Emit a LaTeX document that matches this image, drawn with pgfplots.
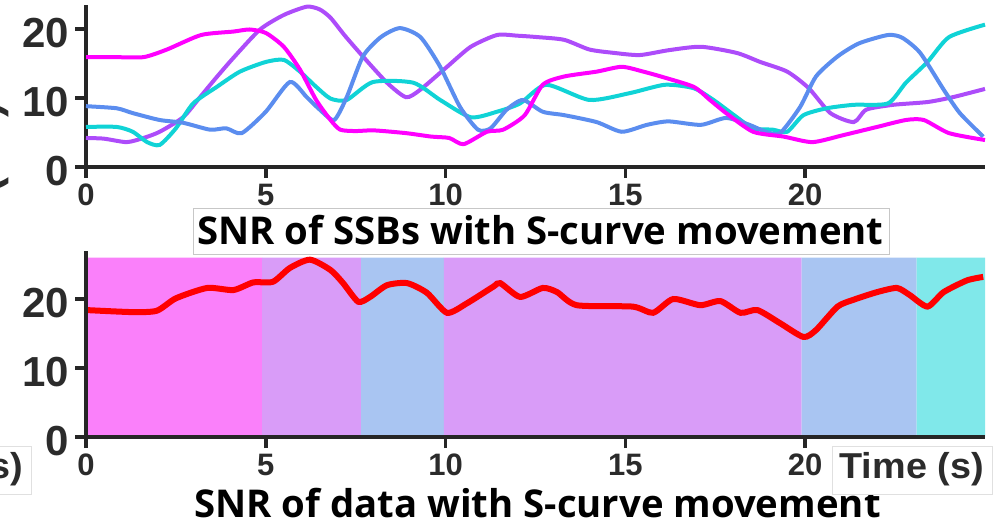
\documentclass[border=0pt]{standalone}
\usepackage{graphicx}
\usepackage{fontspec}
\setmainfont{Liberation Sans}
\newfontfamily\titlefont{Open Sans}
\usepackage{pgfplots}
\pgfplotsset{compat=1.18}
\definecolor{axiscol}{HTML}{262626}
\definecolor{labcol}{HTML}{2B2B2B}
\definecolor{cmag}{HTML}{FF00FF}
\definecolor{cpur}{HTML}{AD4CFA}
\definecolor{cblu}{HTML}{5B8DEF}
\definecolor{ccya}{HTML}{10D3D6}
\definecolor{bmag}{HTML}{FA80FA}
\definecolor{bpur}{HTML}{D99CF8}
\definecolor{bblu}{HTML}{A9C5F2}
\definecolor{bcya}{HTML}{80E8EA}
\newcommand\sy[1]{{\fontsize{42}{42}\selectfont\bfseries #1}}
\newcommand\sx[1]{{\fontsize{31}{31}\selectfont\bfseries #1}}
\pgfplotsset{
  mystyle/.style={
    scale only axis, anchor=south west,
    xmin=0, xmax=25, ymin=0,
    axis x line=bottom, axis y line=left,
    axis line style={-, line width=4pt, color=axiscol},
    xtick={0,5,10,15,20}, xticklabels={\sx{0},\sx{5},\sx{10},\sx{15},\sx{20}},
    ytick={0,10,20}, yticklabels={\sy{0},\sy{10},\sy{20}},
    tick style={line width=3.5pt, color=axiscol},
    major tick length=11pt, tick align=outside,
    tick label style={text=labcol},
    yticklabel style={inner sep=0pt, xshift=-6pt, yshift=-4pt},
    xticklabel style={inner sep=0pt, yshift=-6pt},
    clip=false,
  }
}
\begin{document}
\begin{tikzpicture}[x=1pt,y=1pt]
\useasboundingbox (0,0) rectangle (998,522);
\clip (0,0) rectangle (998,522);
% top panel
\begin{axis}[mystyle, at={(86pt,355pt)}, width=899pt, height=162.15pt, ymax=23.5]
\addplot[cpur, line width=4pt, smooth, tension=0.4] coordinates {
(0,4.2) (0.5,4.1) (1.13,3.6) (1.6,4.2) (2.05,5.1) (2.7,7.2) (3.17,10.1) (3.6,12.8) (4.1,15.8) (4.84,19.9) (5.5,22.0) (6.14,23.2) (6.5,22.8) (6.8,21.6) (7.2,19.0) (7.7,16.0) (8.37,12.2) (8.9,10.1) (9.3,11.2) (10.04,14.5) (10.7,17.4) (11.43,19.1) (12.0,19.0) (12.55,18.8) (13.3,18.4) (14.0,17.0) (14.7,16.5) (15.4,16.2) (16.2,16.9) (17.1,17.4) (18.1,16.5) (18.75,15.2) (19.5,13.8) (20.1,11.4) (20.7,7.8) (21.35,6.5) (21.7,8.3) (22.45,9.0) (23.4,9.4) (24.1,10.1) (25.0,11.3)};
\addplot[ccya, line width=4pt, smooth, tension=0.4] coordinates {
(0,5.8) (0.85,5.8) (1.3,5.1) (1.7,3.6) (2.05,3.2) (2.5,5.6) (2.98,9.2) (3.64,11.6) (4.28,13.8) (5.0,15.2) (5.5,15.5) (5.95,13.8) (6.4,11.6) (6.8,9.9) (7.25,9.7) (7.98,12.3) (9.1,12.2) (9.85,9.7) (10.7,7.2) (11.43,8.0) (12.07,9.2) (12.8,11.9) (14.0,9.7) (15.13,10.7) (16.1,11.9) (16.9,11.4) (17.45,9.7) (18.1,7.2) (18.55,5.6) (19.1,5.4) (19.5,5.1) (19.95,7.5) (20.6,8.5) (21.35,9.0) (22.3,9.2) (22.8,12.2) (23.4,15.2) (24.0,18.8) (25.0,20.6)};
\addplot[cblu, line width=4pt, smooth, tension=0.4] coordinates {
(0,8.8) (0.85,8.5) (1.3,7.8) (2.05,6.8) (2.7,6.4) (3.45,5.4) (3.9,5.6) (4.33,4.9) (5.0,8.0) (5.67,12.3) (6.14,10.1) (6.5,8.3) (6.9,6.8) (7.25,10.1) (7.7,16.0) (8.2,18.8) (8.73,20.1) (9.3,18.8) (9.85,14.5) (10.4,8.7) (10.9,5.4) (11.25,5.6) (11.7,8.3) (12.15,9.7) (12.7,8.0) (13.3,7.5) (14.2,6.5) (14.9,5.1) (15.6,6.1) (16.2,6.6) (17.1,6.1) (17.8,7.1) (18.45,6.1) (18.9,5.1) (19.3,4.9) (19.86,8.7) (20.3,13.1) (20.9,16.0) (21.5,17.9) (22.3,19.1) (22.7,18.7) (23.2,16.5) (23.85,11.2) (24.3,7.8) (24.95,4.4)};
\addplot[cmag, line width=4pt, smooth, tension=0.4] coordinates {
(0,15.9) (0.8,15.9) (1.6,15.9) (2.25,17.0) (3.2,19.1) (4.1,19.6) (4.55,19.9) (5.0,19.4) (5.5,17.4) (5.95,14.1) (6.4,9.7) (6.8,6.8) (7.07,5.4) (7.5,5.2) (8.0,5.3) (8.9,4.9) (9.6,4.4) (10.1,4.2) (10.5,3.3) (11.15,5.1) (11.6,5.4) (12.2,7.5) (12.7,11.9) (13.3,13.1) (14.2,13.8) (14.9,14.5) (15.5,13.8) (16.05,13.0) (16.9,11.6) (17.35,9.7) (17.8,7.8) (18.55,5.1) (19.4,4.4) (20.2,3.6) (21.05,4.6) (22.0,5.8) (22.8,6.8) (23.3,6.8) (24.0,4.9) (25.0,3.9)};
\end{axis}
% bottom panel
\begin{axis}[mystyle, at={(86pt,85pt)}, width=899pt, height=186.3pt, ymax=27, axis on top]
\addplot[fill=bmag, draw=none] coordinates {(0,0) (0,26) (4.9,26) (4.9,0)} \closedcycle;
\addplot[fill=bpur, draw=none] coordinates {(4.9,0) (4.9,26) (7.65,26) (7.65,0)} \closedcycle;
\addplot[fill=bblu, draw=none] coordinates {(7.65,0) (7.65,26) (9.95,26) (9.95,0)} \closedcycle;
\addplot[fill=bpur, draw=none] coordinates {(9.95,0) (9.95,26) (19.9,26) (19.9,0)} \closedcycle;
\addplot[fill=bblu, draw=none] coordinates {(19.9,0) (19.9,26) (23.1,26) (23.1,0)} \closedcycle;
\addplot[fill=bcya, draw=none] coordinates {(23.1,0) (23.1,26) (25,26) (25,0)} \closedcycle;
\addplot[red, line width=6pt, smooth, tension=0.4] coordinates {
(0,18.4) (1.3,18.1) (1.97,18.3) (2.5,20.1) (3.37,21.6) (4.1,21.3) (4.65,22.4) (5.2,22.5) (5.67,24.5) (6.23,25.7) (6.8,24.2) (7.15,22.3) (7.57,19.6) (7.9,20.3) (8.37,22.0) (8.93,22.3) (9.48,20.9) (10.04,18.0) (10.6,19.4) (11.33,21.8) (11.52,22.3) (12.07,20.3) (12.7,21.6) (13.1,21.0) (13.65,19.1) (15.2,18.9) (15.77,18.0) (16.33,20.0) (17.08,19.1) (17.64,19.7) (18.2,18.0) (18.67,18.4) (19.3,16.5) (19.95,14.5) (20.3,15.5) (20.9,18.9) (21.35,19.9) (22.0,21.0) (22.55,21.6) (22.9,20.6) (23.4,18.9) (23.85,21.0) (24.5,22.7) (24.95,23.2)};
\end{axis}
% titles
\draw[black!22, line width=1pt, fill=white] (193,267) rectangle (889,313);
\node[anchor=base, inner sep=0pt] at (540.5,277) {\titlefont\fontsize{38.3}{38.3}\selectfont\bfseries SNR of SSBs with S-curve movement};
\node[anchor=base, inner sep=0pt] at (537.5,5) {\titlefont\fontsize{38.3}{38.3}\selectfont\bfseries SNR of data with S-curve movement};
% time labels
\draw[black!12, line width=1pt, fill=white] (832,28) rectangle (992,75);
\node[anchor=base east, inner sep=0pt, text=labcol] at (984,44) {\fontsize{36}{36}\selectfont\bfseries\scalebox{1.05}[1]{Time (s)}};
\draw[black!12, line width=1pt, fill=white] (-129,28) rectangle (31,75);
\node[anchor=base east, inner sep=0pt, text=labcol] at (23,44) {\fontsize{36}{36}\selectfont\bfseries\scalebox{1.05}[1]{Time (s)}};
% cut y label
\node[rotate=90, anchor=base east, inner sep=0pt, text=labcol] at (-1,420) {\fontsize{45}{45}\selectfont\bfseries SNR (dB)};
\end{tikzpicture}
\end{document}
